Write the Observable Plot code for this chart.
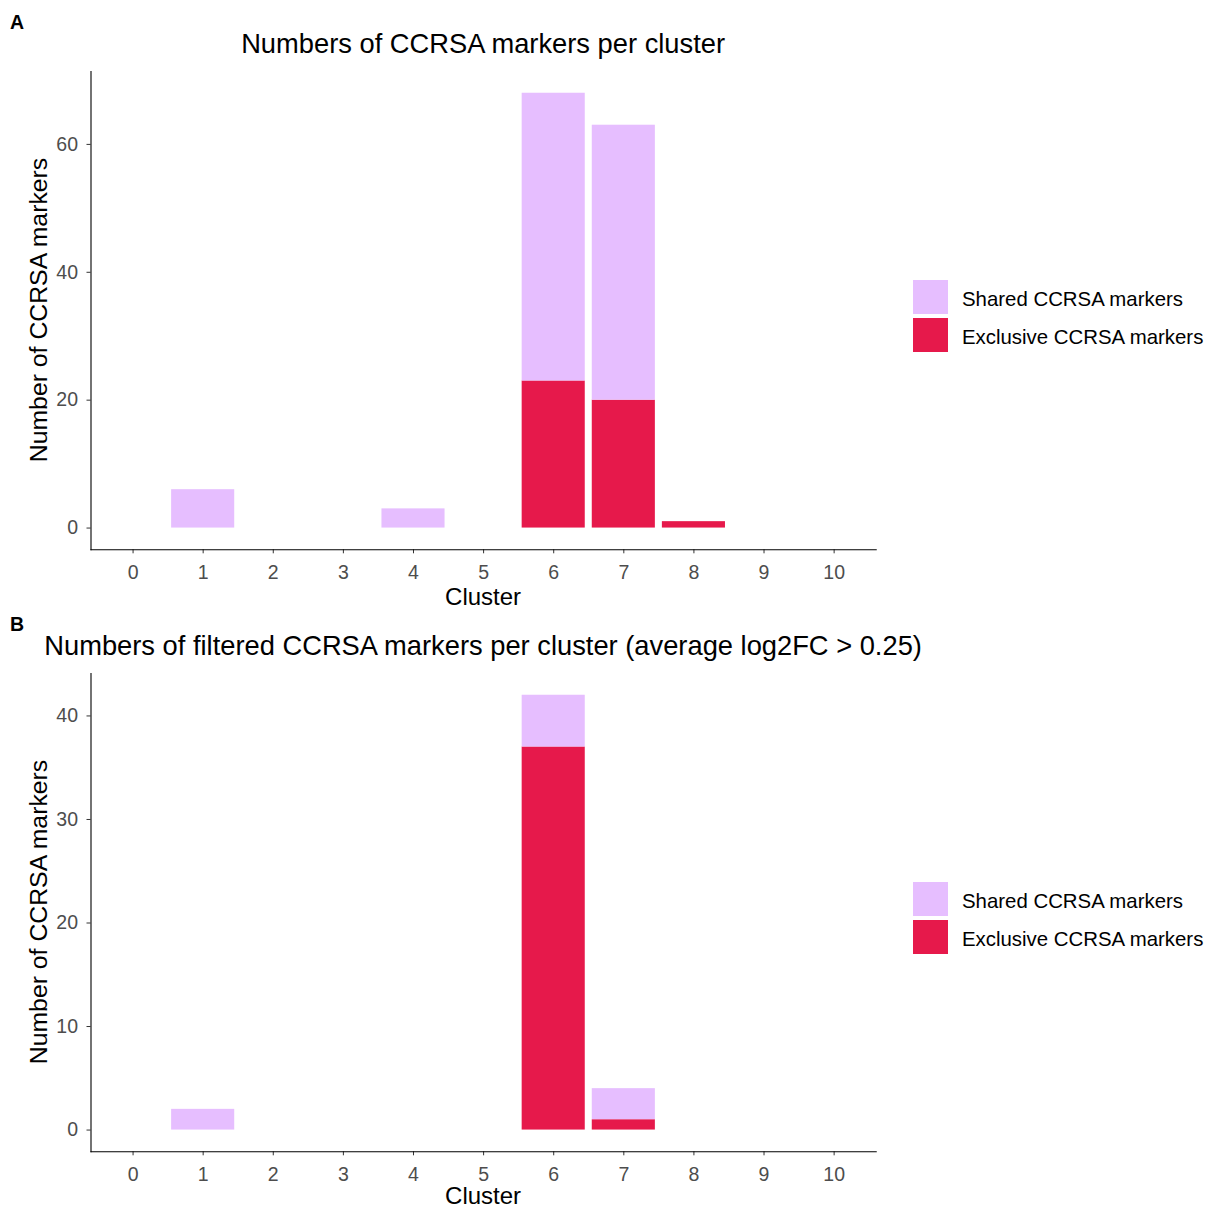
<!DOCTYPE html>
<html>
<head>
<meta charset="utf-8">
<script src="https://cdn.jsdelivr.net/npm/d3@7"></script>
<script src="https://cdn.jsdelivr.net/npm/@observablehq/plot@0.6"></script>
<style>
  html, body { margin: 0; padding: 0; background: white; }
  #root { position: relative; width: 1215px; height: 1210px; overflow: hidden; font-family: "Liberation Sans", Arial, sans-serif; }
  .abs { position: absolute; white-space: nowrap; line-height: 1; }
  .c { transform: translate(-50%, -50%); }
  svg { position: absolute; left: 0; }
</style>
</head>
<body>
<div id="root"></div>
<script>
// ---- data ----
const clusters = ["0", "1", "2", "3", "4", "5", "6", "7", "8", "9", "10"];
const seriesNames = ["Shared CCRSA markers", "Exclusive CCRSA markers"];
const seriesColors = ["#E6BEFF", "#E6194B"];

// Panel A: all CCRSA markers
const sharedA    = [0, 6, 0, 0, 3, 0, 45, 43, 0, 0, 0];
const exclusiveA = [0, 0, 0, 0, 0, 0, 23, 20, 1, 0, 0];
// Panel B: filtered (average log2FC > 0.25)
const sharedB    = [0, 2, 0, 0, 0, 0, 5, 3, 0, 0, 0];
const exclusiveB = [0, 0, 0, 0, 0, 0, 37, 1, 0, 0, 0];

const yTicksA = [0, 20, 40, 60];
const yTicksB = [0, 10, 20, 30, 40];

const titleA = "Numbers of CCRSA markers per cluster";
const titleB = "Numbers of filtered CCRSA markers per cluster (average log2FC > 0.25)";
const xTitle = "Cluster";
const yTitle = "Number of CCRSA markers";

function toRows(shared, exclusive) {
  const rows = [];
  clusters.forEach((c, i) => {
    rows.push({cluster: c, type: seriesNames[1], value: exclusive[i]});
    rows.push({cluster: c, type: seriesNames[0], value: shared[i]});
  });
  return rows;
}

const root = document.getElementById("root");
const FONT = "'Liberation Sans', Arial, sans-serif";

function addText(txt, x, y, css) {
  const d = document.createElement("div");
  d.className = "abs";
  d.textContent = txt;
  d.style.left = x + "px";
  d.style.top = y + "px";
  Object.assign(d.style, css || {});
  root.appendChild(d);
  return d;
}

function panel(shared, exclusive, yTicks, title, label, oy, xTitleY) {
  const rows = toRows(shared, exclusive);
  const maxTotal = d3.max(clusters, (c, i) => shared[i] + exclusive[i]);
  const pad = maxTotal * 0.05;
  const W = 890, H = 610;
  const plotLeft = 90.5, plotRight = 875.7;
  const svg = Plot.plot({
    width: W,
    height: H,
    marginLeft: plotLeft,
    marginRight: W - plotRight,
    marginTop: 71,
    marginBottom: H - 549.3,
    style: {fontFamily: FONT, fontSize: "19.5px", background: "transparent", overflow: "visible"},
    x: {type: "band", domain: clusters, paddingInner: 0.1, paddingOuter: 0.15, round: false, label: null},
    y: {domain: [-pad, maxTotal + pad], label: null},
    color: {domain: seriesNames, range: seriesColors},
    marks: [
      Plot.barY(rows, {x: "cluster", y: "value", fill: "type", order: [seriesNames[1], seriesNames[0]]}),
      Plot.axisY({ticks: yTicks, tickSize: 4, tickPadding: 9, stroke: "#333333", fill: "#4D4D4D", label: null}),
      Plot.axisX({tickSize: 4, tickPadding: 11, stroke: "#333333", fill: "#4D4D4D", label: null}),
      Plot.frame({anchor: "left", stroke: "black", strokeWidth: 1.1}),
      Plot.frame({anchor: "bottom", stroke: "black", strokeWidth: 1.1})
    ]
  });
  svg.style.top = oy + "px";
  root.appendChild(svg);

  const cx = (plotLeft + plotRight) / 2;
  addText(label, 10, oy + 13, {fontSize: "19.5px", fontWeight: "bold", color: "#000"});
  const t = addText(title, cx, oy + 44, {fontSize: "27.3px", color: "#000"});
  t.classList.add("c");
  const xt = addText(xTitle, cx, oy + xTitleY, {fontSize: "24px", color: "#000", lineHeight: "0.9"});
  xt.classList.add("c");
  addText(yTitle, 39, oy + 310, {fontSize: "24.8px", color: "#000", transform: "translate(-50%, -50%) rotate(-90deg)"});

  // legend
  seriesNames.forEach((name, i) => {
    const top = oy + 280 + i * 38;
    const key = document.createElement("div");
    key.className = "abs";
    Object.assign(key.style, {left: "913px", top: top + "px", width: "35px", height: "34px", background: seriesColors[i]});
    root.appendChild(key);
    addText(name, 962, top + 19, {fontSize: "20.4px", color: "#000", transform: "translateY(-50%)"});
  });
}

panel(sharedA, exclusiveA, yTicksA, titleA, "A", 0, 597);
panel(sharedB, exclusiveB, yTicksB, titleB, "B", 602, 594);
</script>
</body>
</html>
